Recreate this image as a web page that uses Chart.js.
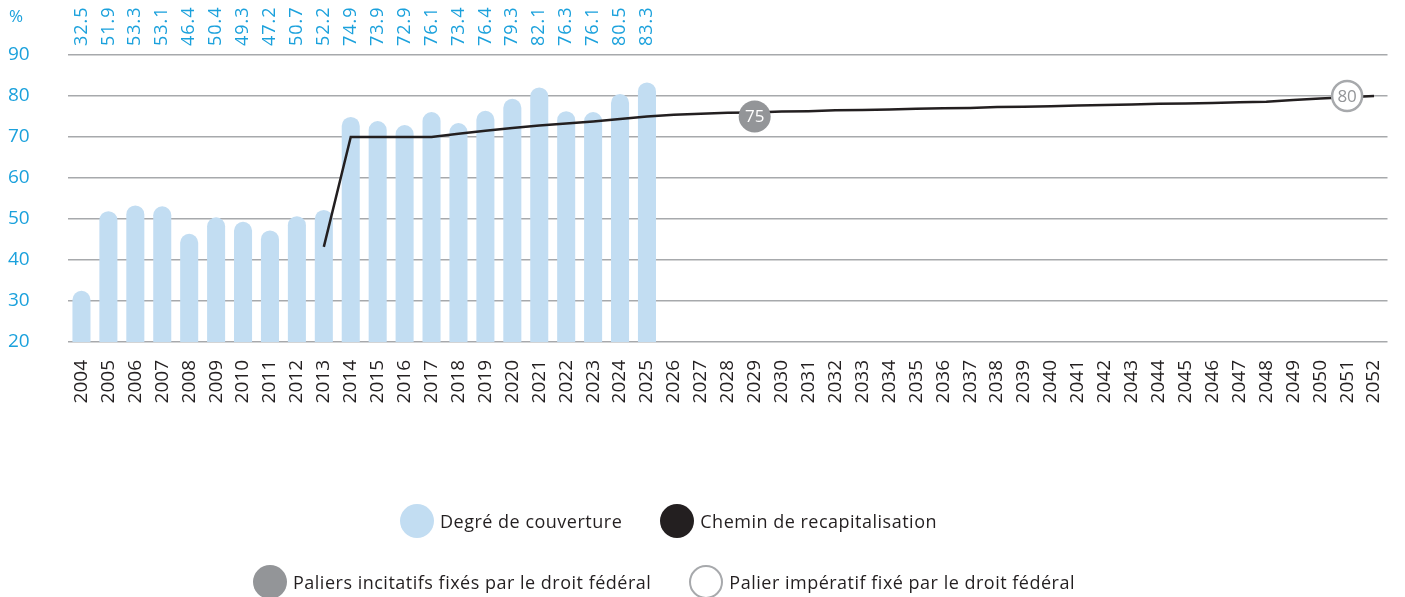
<!DOCTYPE html>
<html>
<head>
<meta charset="utf-8">
<script src="https://cdn.jsdelivr.net/npm/chart.js@4.4.1/dist/chart.umd.min.js"></script>
<style>
    body { margin: 0; background: #fff; }
    #wrap { position: relative; width: 1405px; height: 597px; }
    .legend-row { position: absolute; display: flex; align-items: center; font-family: 'Open Sans', sans-serif; font-size: 18px; letter-spacing: 0.5px; color: #231f20; }
    .legend-item { display: flex; align-items: center; margin-right: 38px; }
    .dot { width: 34px; height: 34px; border-radius: 50%; box-sizing: border-box; margin-right: 6px; }
</style>
</head>
<body>
<div id="wrap">
    <canvas id="chart" width="1405" height="597"></canvas>
    <div class="legend-row" style="left:400px; top:504px;">
        <div class="legend-item"><div class="dot" style="background:#c2ddf2"></div>Degré de couverture</div>
        <div class="legend-item"><div class="dot" style="background:#231f20"></div>Chemin de recapitalisation</div>
    </div>
    <div class="legend-row" style="left:253px; top:565px;">
        <div class="legend-item"><div class="dot" style="background:#939598"></div>Paliers incitatifs fixés par le droit fédéral</div>
        <div class="legend-item"><div class="dot" style="border:2.5px solid #a7a9ac; background:#fff"></div>Palier impératif fixé par le droit fédéral</div>
    </div>
</div>
<script>
// Données
const years = [];
for (let y = 2004; y <= 2052; y++) years.push(String(y));

// Degré de couverture 2004-2025
const coverage = [32.5, 51.9, 53.3, 53.1, 46.4, 50.4, 49.3, 47.2, 50.7, 52.2, 74.9,
    73.9, 72.9, 76.1, 73.4, 76.4, 79.3, 82.1, 76.3, 76.1, 80.5, 83.3];

// Chemin de recapitalisation 2013-2052
const pathYears = ['2013', '2014', '2015', '2016', '2017', '2018', '2019', '2020', '2021', '2022',
    '2023', '2024', '2025', '2026', '2027', '2028', '2029', '2030', '2031', '2032',
    '2033', '2034', '2035', '2036', '2037', '2038', '2039', '2040', '2041', '2042',
    '2043', '2044', '2045', '2046', '2047', '2048', '2049', '2050', '2051', '2052'];
const pathValues = [43.2, 70, 70, 70, 70, 70.8, 71.5, 72.2, 72.8, 73.3,
    73.8, 74.4, 75.0, 75.4, 75.7, 75.9, 76.0, 76.2, 76.3, 76.5,
    76.6, 76.7, 76.9, 77.0, 77.1, 77.3, 77.4, 77.5, 77.7, 77.8,
    77.9, 78.1, 78.2, 78.3, 78.5, 78.6, 79.0, 79.4, 79.7, 80.0];

// Paliers
const incentiveSteps = [{ x: '2029', y: 75 }];
const mandatorySteps = [{ x: '2051', y: 80 }];

const yTicks = [20, 30, 40, 50, 60, 70, 80, 90];

const BLUE = '#1ba1dc';
const FONT = "'Open Sans', sans-serif";

// Valeurs au-dessus du graphique + labels des paliers
const labelsPlugin = {
    id: 'labelsPlugin',
    afterDatasetsDraw(chart) {
        const ctx = chart.ctx;
        const xScale = chart.scales.x;
        ctx.save();
        // valeurs verticales
        ctx.fillStyle = BLUE;
        ctx.font = '18px ' + FONT;
        ctx.letterSpacing = '1px';
        ctx.textAlign = 'left';
        ctx.textBaseline = 'middle';
        coverage.forEach((v, i) => {
            const x = xScale.getPixelForValue(i);
            ctx.save();
            ctx.translate(x, 46);
            ctx.rotate(-Math.PI / 2);
            ctx.fillText(v.toFixed(1), 0, 0);
            ctx.restore();
        });
        ctx.letterSpacing = '0px';
        // %
        ctx.font = '500 17px ' + FONT;
        ctx.fillText('%', 9, 17);

        // chiffres dans les cercles
        ctx.textAlign = 'center';
        ctx.font = '17px ' + FONT;
        const drawIn = (dsIndex, color) => {
            const meta = chart.getDatasetMeta(dsIndex);
            meta.data.forEach((pt, i) => {
                ctx.fillStyle = color;
                ctx.fillText(String(chart.data.datasets[dsIndex].data[i].y), pt.x, pt.y + 1);
            });
        };
        drawIn(2, '#ffffff');
        drawIn(3, '#939598');
        ctx.restore();
    }
};

const ctx = document.getElementById('chart').getContext('2d');
const chart = new Chart(ctx, {
    type: 'bar',
    data: {
        labels: years,
        datasets: [
            {
                type: 'bar',
                label: 'Degré de couverture',
                data: coverage,
                backgroundColor: '#c2ddf2',
                borderRadius: 9,
                borderSkipped: 'bottom',
                barPercentage: 0.67,
                categoryPercentage: 1,
                order: 3
            },
            {
                type: 'line',
                label: 'Chemin de recapitalisation',
                data: pathYears.map((y, i) => ({ x: y, y: pathValues[i] })),
                borderColor: '#231f20',
                borderWidth: 2.5,
                pointRadius: 0,
                tension: 0,
                order: 2
            },
            {
                type: 'line',
                label: 'Paliers incitatifs fixés par le droit fédéral',
                data: incentiveSteps,
                showLine: false,
                pointRadius: 16,
                pointBackgroundColor: '#939598',
                pointBorderColor: '#939598',
                pointBorderWidth: 0,
                order: 1
            },
            {
                type: 'line',
                label: 'Palier impératif fixé par le droit fédéral',
                data: mandatorySteps,
                showLine: false,
                pointRadius: 15,
                pointBackgroundColor: '#ffffff',
                pointBorderColor: '#a7a9ac',
                pointBorderWidth: 2.5,
                order: 0
            }
        ]
    },
    options: {
        responsive: false,
        animation: false,
        layout: {
            padding: { top: 55, left: 8, right: 14, bottom: 185 }
        },
        plugins: {
            legend: { display: false },
            tooltip: { enabled: false }
        },
        scales: {
            x: {
                grid: { display: false },
                border: { display: false },
                ticks: {
                    autoSkip: false,
                    minRotation: 90,
                    maxRotation: 90,
                    padding: 10,
                    color: '#231f20',
                    font: { family: FONT, size: 19 }
                },
                afterFit: (s) => {
                    s.height = 70;
                    s.paddingLeft = 0;
                    s.paddingRight = 0;
                }
            },
            y: {
                min: 20,
                max: 90,
                afterBuildTicks: (s) => { s.ticks = yTicks.map(v => ({ value: v })); },
                grid: { color: '#a7a9ac', lineWidth: 1.5, drawTicks: false },
                border: { display: false },
                ticks: {
                    crossAlign: 'far',
                    padding: 0,
                    color: BLUE,
                    font: { family: FONT, size: 19, weight: '500' }
                },
                afterFit: (s) => { s.width = 60; }
            }
        }
    },
    plugins: [labelsPlugin]
});
</script>
</body>
</html>
